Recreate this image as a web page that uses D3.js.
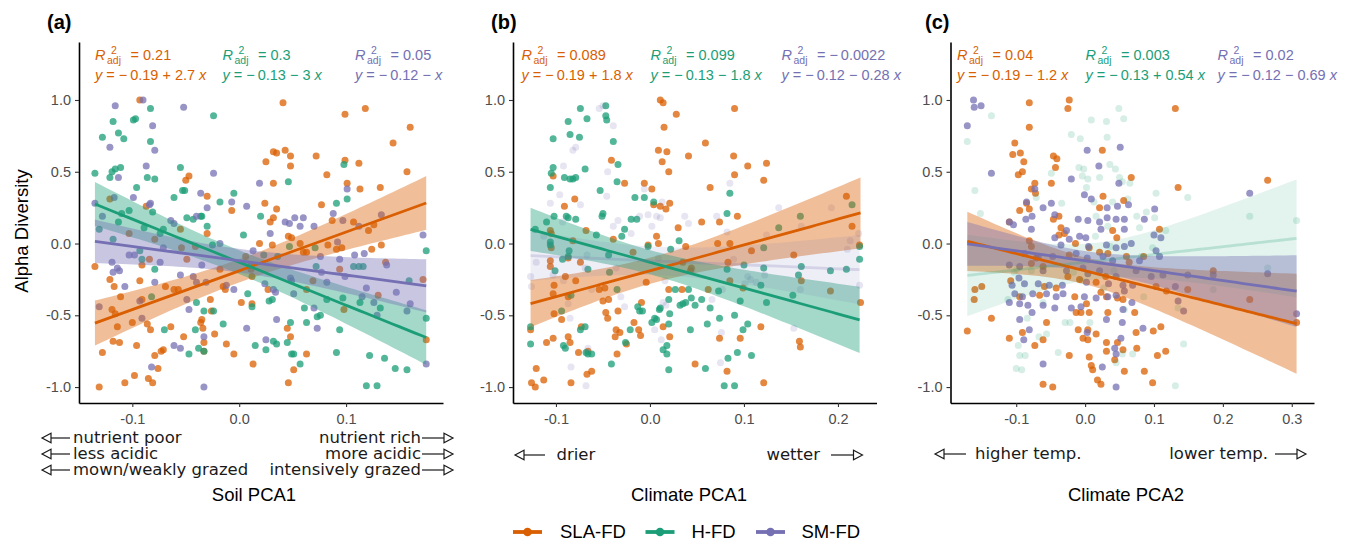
<!DOCTYPE html>
<html>
<head>
<meta charset="utf-8">
<script src="https://cdn.jsdelivr.net/npm/d3@7"></script>
<style>
  body { margin: 0; background: #fff; }
  svg { display: block; }
  text { font-family: "Liberation Sans", Arial, sans-serif; }
</style>
</head>
<body>
<svg id="chart" width="1355" height="541"></svg>
<script>
// ---- data: [predictor score, alpha diversity] per plot ----
const soilSLA = [[-0.131,-1.00],[-0.135,-0.16],[-0.128,-0.76],[-0.121,0.31],[-0.121,-0.25],[-0.117,-0.30],[-0.119,-0.46],[-0.116,-0.49],[-0.111,-0.37],[-0.114,-0.58],[-0.118,-0.68],[-0.112,-0.69],[-0.107,-0.97],[-0.103,0.07],[-0.100,-0.55],[-0.096,-0.71],[-0.098,-0.92],[-0.093,1.00],[-0.093,-0.26],[-0.091,-0.15],[-0.091,-0.39],[-0.087,0.26],[-0.086,-0.56],[-0.083,-0.60],[-0.085,-0.94],[-0.081,-0.97],[-0.084,-0.11],[-0.079,0.03],[-0.079,-0.78],[-0.076,-0.87],[-0.073,-0.75],[-0.071,-0.74],[-0.069,-0.30],[-0.064,-0.58],[-0.061,-0.32],[-0.055,0.10],[-0.054,-0.03],[-0.050,0.44],[-0.047,0.47],[-0.049,-0.11],[-0.052,-0.65],[-0.057,-0.32],[-0.041,-0.02],[-0.036,-0.55],[-0.035,-0.53],[-0.034,-0.59],[-0.033,-0.69],[-0.033,-0.75],[-0.030,0.33],[-0.030,0.07],[-0.027,-0.39],[-0.026,-0.47],[-0.023,-0.63],[-0.018,-0.18],[-0.015,-0.30],[-0.013,-0.32],[-0.012,-0.70],[-0.007,0.23],[-0.005,-0.77],[0.002,-0.41],[0.006,-0.09],[0.011,-0.18],[0.012,-0.23],[0.013,-0.84],[0.012,-0.42],[0.019,0.00],[0.025,0.57],[0.024,0.28],[0.027,-0.32],[0.029,0.15],[0.031,-0.01],[0.032,0.64],[0.035,0.63],[0.032,0.42],[0.032,0.18],[0.035,0.24],[0.041,0.98],[0.043,0.65],[0.048,0.61],[0.048,0.54],[0.046,0.05],[0.049,0.04],[0.045,-0.59],[0.048,-0.65],[0.051,-0.88],[0.046,-0.97],[0.057,0.00],[0.060,-0.06],[0.063,-0.06],[0.063,-0.77],[0.063,-0.32],[0.069,-0.26],[0.072,0.61],[0.077,0.27],[0.082,0.48],[0.083,-0.01],[0.087,0.16],[0.091,-0.04],[0.094,-0.18],[0.096,-0.03],[0.098,-0.46],[0.099,0.58],[0.101,0.42],[0.099,0.90],[0.107,0.15],[0.112,0.56],[0.113,0.38],[0.118,0.94],[0.121,0.09],[0.124,-0.04],[0.126,0.13],[0.130,-0.36],[0.132,0.39],[0.133,-0.01],[0.137,-0.13],[0.144,0.70],[0.157,0.50],[0.160,0.81],[0.172,-0.25],[0.175,-0.67]];

const soilH = [[-0.135,0.49],[-0.131,0.10],[-0.128,0.74],[-0.121,0.46],[-0.119,0.50],[-0.116,0.52],[-0.111,0.53],[-0.118,0.85],[-0.113,0.77],[-0.108,0.73],[-0.118,0.03],[-0.113,0.15],[-0.110,0.21],[-0.103,0.23],[-0.099,0.86],[-0.097,0.87],[-0.096,0.39],[-0.093,-0.05],[-0.091,-0.11],[-0.089,0.11],[-0.086,0.46],[-0.079,0.45],[-0.083,0.71],[-0.083,0.94],[-0.081,0.22],[-0.082,-0.37],[-0.079,-0.18],[-0.074,0.07],[-0.071,0.10],[-0.070,-0.60],[-0.061,0.32],[-0.055,0.53],[-0.053,0.37],[-0.051,0.37],[-0.049,0.18],[-0.047,-0.77],[-0.043,0.17],[-0.041,-0.60],[-0.040,-0.41],[-0.038,-0.73],[-0.036,0.19],[-0.035,0.19],[-0.033,-0.75],[-0.033,-0.47],[-0.030,0.12],[-0.024,0.89],[-0.025,-0.01],[-0.024,-0.47],[-0.018,0.29],[-0.015,-0.56],[-0.005,0.35],[0.004,0.06],[0.008,-0.35],[0.011,-0.15],[0.012,-0.44],[0.015,-0.71],[0.020,0.19],[0.023,-0.08],[0.025,-0.74],[0.028,-0.40],[0.031,-0.39],[0.032,-0.68],[0.035,-0.70],[0.036,-0.09],[0.045,-0.69],[0.046,0.43],[0.047,-0.02],[0.048,-0.55],[0.049,-0.77],[0.051,-0.77],[0.057,-0.84],[0.061,-0.45],[0.063,-0.55],[0.072,-0.16],[0.071,-0.03],[0.073,-0.51],[0.076,-0.50],[0.082,-0.39],[0.091,0.28],[0.091,-0.76],[0.094,-0.60],[0.097,-0.38],[0.098,0.55],[0.101,0.31],[0.107,-0.16],[0.112,-0.16],[0.116,-0.16],[0.113,-0.41],[0.119,-0.99],[0.129,-0.99],[0.122,-0.78],[0.132,-0.45],[0.136,-0.80],[0.146,-0.87],[0.157,-0.88],[0.159,-0.26],[0.175,-0.05],[0.175,-0.52]];

const soilSM = [[-0.135,0.28],[-0.131,-0.44],[-0.128,0.19],[-0.121,0.67],[-0.119,-0.13],[-0.116,0.96],[-0.118,-0.20],[-0.114,-0.17],[-0.112,-0.19],[-0.117,0.32],[-0.113,0.46],[-0.107,-0.30],[-0.103,-0.08],[-0.099,0.32],[-0.098,-0.08],[-0.093,-0.40],[-0.091,-0.52],[-0.090,1.00],[-0.087,0.54],[-0.084,0.27],[-0.083,0.28],[-0.081,0.82],[-0.079,0.65],[-0.079,-0.27],[-0.082,-0.86],[-0.074,-0.13],[-0.071,-0.03],[-0.064,0.16],[-0.061,0.14],[-0.061,-0.71],[-0.055,-0.22],[-0.055,-0.73],[-0.052,0.95],[-0.049,-0.39],[-0.047,-0.46],[-0.043,-0.23],[-0.040,-0.27],[-0.040,0.19],[-0.036,0.35],[-0.035,-0.15],[-0.033,-0.65],[-0.033,-1.00],[-0.031,-0.27],[-0.030,0.25],[-0.024,0.49],[-0.018,0.00],[-0.012,-0.29],[-0.007,0.29],[-0.005,-0.32],[0.007,0.26],[0.007,-0.59],[0.013,-0.05],[0.019,0.42],[0.024,-0.28],[0.025,-0.67],[0.029,0.07],[0.032,-0.32],[0.034,-0.34],[0.035,-0.53],[0.043,0.15],[0.047,0.14],[0.052,0.18],[0.048,-0.24],[0.049,-0.26],[0.051,-0.35],[0.057,0.12],[0.060,0.18],[0.070,0.12],[0.070,-0.45],[0.073,-0.59],[0.076,-0.09],[0.077,-0.20],[0.082,-0.27],[0.088,0.21],[0.092,0.01],[0.094,-0.11],[0.097,0.16],[0.099,-0.23],[0.101,0.38],[0.108,-0.08],[0.112,0.12],[0.115,-0.37],[0.117,-0.07],[0.119,-0.31],[0.126,-0.41],[0.129,-0.50],[0.133,0.20],[0.138,-0.15],[0.147,-0.34],[0.157,-0.47],[0.160,-0.42],[0.172,0.06],[0.175,-0.84]];

const moistSLA = [[-0.127,-0.60],[-0.126,-0.97],[-0.122,-1.00],[-0.121,-0.87],[-0.113,-0.95],[-0.110,-0.69],[-0.106,0.09],[-0.105,0.07],[-0.106,-0.12],[-0.106,-0.16],[-0.105,-0.03],[-0.103,0.47],[-0.103,-0.66],[-0.102,-0.49],[-0.102,-0.29],[-0.103,-0.35],[-0.094,-0.53],[-0.091,0.26],[-0.090,-0.23],[-0.087,-0.10],[-0.087,-0.37],[-0.087,-0.65],[-0.085,-0.69],[-0.084,-0.97],[-0.082,0.02],[-0.080,0.31],[-0.079,-0.26],[-0.076,-0.76],[-0.074,-0.13],[-0.073,-0.58],[-0.068,0.09],[-0.067,-0.91],[-0.066,-0.75],[-0.062,-0.89],[-0.054,-0.32],[-0.050,-0.40],[-0.048,-0.31],[-0.047,-0.48],[-0.045,-0.52],[-0.044,-0.39],[-0.041,0.58],[-0.039,0.03],[-0.037,-0.65],[-0.036,-0.60],[-0.035,-0.77],[-0.032,-0.62],[-0.034,-0.47],[-0.027,0.42],[-0.025,-0.70],[-0.018,-0.06],[-0.017,-0.55],[-0.012,-0.60],[-0.010,-0.64],[-0.009,-0.41],[-0.006,0.42],[-0.004,-0.27],[-0.002,-0.01],[0.002,0.38],[0.004,0.27],[0.007,0.05],[0.009,0.00],[0.009,0.65],[0.011,1.00],[0.014,0.98],[0.015,0.81],[0.013,0.57],[0.018,0.64],[0.020,0.50],[0.011,0.26],[0.017,0.24],[0.021,0.28],[0.014,-0.58],[0.020,-0.32],[0.021,-0.65],[0.028,0.90],[0.030,0.11],[0.034,-0.32],[0.035,-0.13],[0.038,-0.02],[0.041,0.61],[0.043,-0.19],[0.044,-0.17],[0.048,-0.84],[0.055,0.15],[0.059,0.70],[0.062,-0.32],[0.064,0.39],[0.072,0.00],[0.074,0.15],[0.074,-0.66],[0.082,-0.89],[0.083,-0.13],[0.085,0.00],[0.085,-0.26],[0.089,0.61],[0.090,0.94],[0.090,0.48],[0.093,0.19],[0.096,-0.66],[0.099,-0.31],[0.104,0.54],[0.108,-0.05],[0.118,-0.58],[0.121,0.44],[0.121,-0.97],[0.124,0.56],[0.153,-0.08],[0.159,-0.68],[0.160,-0.72],[0.161,-0.26],[0.192,-0.33],[0.209,0.33],[0.215,0.12],[0.223,-0.01],[0.224,-0.41]];

const moistH = [[-0.127,-0.58],[-0.127,-0.70],[-0.122,0.10],[-0.110,0.15],[-0.106,0.01],[-0.106,-0.01],[-0.106,0.39],[-0.105,0.49],[-0.103,0.53],[-0.103,0.73],[-0.102,0.19],[-0.101,-0.19],[-0.094,-0.47],[-0.093,-0.11],[-0.092,-0.71],[-0.090,-0.73],[-0.091,0.46],[-0.085,0.45],[-0.082,0.45],[-0.079,0.46],[-0.089,0.19],[-0.087,0.18],[-0.087,0.85],[-0.086,-0.05],[-0.087,-0.09],[-0.085,0.76],[-0.084,-0.36],[-0.079,0.17],[-0.075,0.74],[-0.074,-0.60],[-0.069,-0.58],[-0.074,0.94],[-0.069,0.52],[-0.068,-0.76],[-0.066,-0.77],[-0.062,-0.77],[-0.067,0.87],[-0.066,-0.18],[-0.057,0.06],[-0.053,0.37],[-0.051,0.19],[-0.050,0.21],[-0.047,0.96],[-0.047,0.89],[-0.046,0.86],[-0.044,-0.08],[-0.043,-0.20],[-0.041,-0.84],[-0.039,0.71],[-0.035,-0.32],[-0.034,0.55],[-0.035,0.43],[-0.030,0.05],[-0.027,0.10],[-0.026,-0.69],[-0.021,-0.60],[-0.020,0.17],[-0.016,0.32],[-0.014,0.17],[-0.013,-0.44],[-0.011,-0.47],[-0.008,-0.47],[-0.006,0.32],[-0.002,-0.02],[0.002,-0.55],[0.004,0.29],[0.005,-0.52],[0.007,-0.53],[0.010,-0.46],[0.011,-0.45],[0.014,-0.74],[0.018,-0.71],[0.018,-0.77],[0.020,-0.88],[0.020,-0.56],[0.021,-0.49],[0.020,-0.39],[0.022,-0.04],[0.027,-0.32],[0.031,0.02],[0.032,-0.43],[0.035,-0.42],[0.038,-0.41],[0.041,-0.32],[0.043,-0.60],[0.044,-0.38],[0.048,-0.43],[0.055,-0.39],[0.059,-0.87],[0.061,-0.56],[0.064,-0.45],[0.073,-0.33],[0.074,-0.52],[0.079,-0.99],[0.082,-0.18],[0.085,0.35],[0.082,0.21],[0.083,-0.80],[0.090,-0.50],[0.090,-0.99],[0.093,-0.76],[0.096,-0.40],[0.099,-0.60],[0.104,-0.56],[0.100,-0.15],[0.108,-0.78],[0.118,-0.29],[0.121,-0.17],[0.121,-0.03],[0.124,-0.41],[0.137,0.11],[0.152,-0.36],[0.160,0.19],[0.158,-0.22],[0.161,-0.16],[0.192,-0.19],[0.209,-0.18],[0.215,0.27],[0.223,-0.11],[0.223,-0.02]];

const moistSM = [[-0.127,-0.23],[-0.126,-0.30],[-0.121,-0.13],[-0.113,0.05],[-0.106,0.28],[-0.103,-0.22],[-0.096,0.34],[-0.092,0.54],[-0.093,0.15],[-0.092,-0.26],[-0.087,-0.42],[-0.085,-0.52],[-0.084,-0.86],[-0.082,0.65],[-0.079,0.67],[-0.074,0.27],[-0.069,-0.17],[-0.068,-0.99],[-0.067,-0.08],[-0.066,-0.73],[-0.062,-0.32],[-0.054,0.94],[-0.050,0.96],[-0.046,0.33],[-0.045,0.50],[-0.039,0.82],[-0.039,0.12],[-0.036,-0.17],[-0.034,0.16],[-0.031,-0.37],[-0.027,-0.44],[-0.020,0.07],[-0.011,0.19],[-0.006,0.38],[-0.002,0.20],[0.002,0.12],[0.005,-0.60],[0.007,0.19],[0.009,-0.10],[0.011,0.18],[0.012,-0.67],[0.013,0.29],[0.014,-0.41],[0.016,-0.26],[0.017,-0.43],[0.037,0.19],[0.041,0.14],[0.045,-0.18],[0.066,-0.39],[0.071,0.19],[0.075,-0.83],[0.076,-0.62],[0.077,-0.32],[0.082,0.08],[0.085,0.42],[0.089,-0.11],[0.101,-0.28],[0.104,-0.23],[0.107,-0.25],[0.113,-0.27],[0.122,-0.22],[0.124,0.06],[0.137,0.25],[0.153,-0.59],[0.160,-0.32],[0.161,0.12],[0.193,0.25],[0.210,-0.04],[0.213,0.02],[0.222,0.07],[0.223,-0.29]];

const tempSLA = [[-0.171,-0.61],[-0.161,-0.39],[-0.160,-0.32],[-0.150,-0.30],[-0.136,-0.52],[-0.081,0.98],[-0.081,0.81],[-0.025,0.94],[-0.023,1.00],[-0.110,0.15],[-0.108,-0.26],
  [-0.102,0.70],[-0.105,0.62],[-0.094,0.63],[-0.089,0.57],[-0.091,0.50],[-0.097,0.48],[-0.046,0.61],[-0.041,0.59],[-0.043,0.53],[-0.073,0.42],[-0.049,0.42],[-0.078,0.38],[-0.072,0.35],[0.025,0.65],[0.067,0.46],[0.026,0.33],[0.021,0.25],[0.056,0.30],[-0.095,0.23],[-0.081,0.24],[-0.085,0.28],[-0.046,0.17],[-0.038,0.19],[-0.035,0.11],[-0.030,0.07],[0.108,0.10],[-0.081,0.02],[-0.078,-0.02],[-0.038,0.06],[-0.014,0.00],[0.006,-0.03],[0.040,0.09],[0.046,0.04],[-0.023,-0.08],[0.021,-0.06],[0.033,-0.07],[0.060,-0.09],[0.085,-0.09],[-0.071,-0.10],[-0.078,-0.14],[-0.061,-0.16],[-0.025,-0.23],[-0.008,-0.25],[0.016,-0.27],[0.030,-0.23],[0.064,-0.13],[0.103,-0.30],[0.118,-0.33],[-0.059,-0.30],[-0.042,-0.31],[-0.095,-0.37],[-0.066,-0.36],[-0.015,-0.37],[0.002,-0.42],[0.023,-0.34],[0.031,-0.37],[0.047,-0.38],[0.055,-0.39],[-0.006,-0.48],[-0.013,-0.48],[0.006,-0.48],[0.033,-0.48],[0.072,-0.48],[-0.056,-0.55],[-0.110,-0.66],[-0.091,-0.62],[-0.073,-0.71],[-0.061,-0.67],[-0.010,-0.60],[0.004,-0.60],[0.016,-0.63],[-0.003,-0.66],[0.004,-0.67],[0.031,-0.69],[0.047,-0.69],[0.074,-0.62],[0.099,-0.61],[0.110,-0.58],[0.075,-0.73],[-0.023,-0.78],[0.006,-0.79],[0.031,-0.75],[0.043,-0.81],[0.055,-0.74],[0.117,-0.75],[0.105,-0.78],[0.009,-0.85],[0.011,-0.88],[0.057,-0.89],[0.086,-0.89],[0.098,-0.97],[-0.061,-0.98],[-0.047,-1.00],[0.018,-0.95],[0.023,-0.98],
  [0.131,0.94],[0.135,0.39],[0.149,-0.32],[0.186,-0.19],[0.239,-0.39],[0.265,0.44],[0.307,-0.55]];

const tempH = [[-0.171,0.71],[-0.160,0.37],[-0.152,0.21],[-0.136,0.89],[-0.112,-0.39],[-0.103,-0.20],[-0.099,-0.18],[-0.097,-0.71],[-0.095,-0.78],[-0.100,-0.87],[-0.092,-0.88],[-0.087,-0.78],[-0.084,-0.52],[-0.078,-0.19],[-0.071,0.32],[-0.067,-0.65],[-0.061,-0.41],[-0.056,-0.63],[-0.049,0.49],[-0.039,-0.76],[-0.034,0.28],[-0.029,-0.55],[-0.022,-0.55],[-0.020,0.76],[-0.017,-0.20],[-0.009,0.53],[-0.007,0.73],[-0.005,-0.26],[-0.004,0.47],[-0.002,0.52],[0.002,0.39],[0.004,0.45],[0.007,-0.55],[0.009,0.86],[0.013,0.29],[0.015,0.05],[0.016,0.19],[0.021,0.46],[0.027,-0.31],[0.031,0.85],[0.032,0.74],[0.033,0.12],[0.036,0.55],[0.037,-0.02],[0.040,0.29],[0.042,-0.19],[0.044,0.52],[0.045,-0.83],[0.049,0.94],[0.050,0.46],[0.054,0.43],[0.054,-0.77],[0.056,0.87],[0.057,-0.46],[0.062,0.31],[0.065,0.42],[0.069,-0.77],[0.075,0.19],[0.079,0.11],[0.082,-0.09],[0.085,-0.37],[0.089,0.22],[0.098,-0.03],[0.101,0.18],[0.103,0.35],[0.117,0.09],[0.131,-0.99],[0.135,-0.45],[0.143,-0.70],[0.149,0.32],[0.186,-0.32],[0.239,0.19],[0.265,-0.17],[0.307,0.16]];

const tempSM = [[-0.171,0.82],[-0.162,1.00],[-0.161,0.95],[-0.151,0.96],[-0.136,0.49],
  [0.003,0.65],[0.051,0.67],[0.020,0.54],[-0.020,0.45],[0.049,0.42],[-0.073,0.38],[-0.001,0.34],[0.009,0.31],[-0.085,0.29],[-0.061,0.25],[-0.049,0.28],[0.032,0.25],[0.047,0.26],[0.063,0.27],[0.101,0.24],[-0.110,0.15],[-0.104,0.13],[-0.086,0.17],[-0.077,0.19],[-0.078,0.10],[-0.044,0.20],[-0.010,0.17],[0.004,0.16],[0.021,0.15],[0.032,0.18],[0.045,0.17],[0.057,0.17],[0.086,0.17],[-0.027,0.09],[-0.008,0.05],[0.001,0.04],[0.023,0.10],[0.057,0.10],[0.100,0.06],[0.110,0.04],[-0.044,0.04],[-0.035,-0.01],[-0.023,0.03],[0.005,-0.02],[0.031,-0.01],[0.045,-0.03],[0.057,-0.02],[0.067,0.00],[0.103,-0.05],[-0.088,-0.07],[-0.068,-0.09],[-0.047,-0.09],[-0.013,-0.07],[0.003,-0.10],[0.026,-0.09],[0.040,-0.12],[0.079,-0.12],[0.108,-0.09],[-0.110,-0.15],[-0.095,-0.16],[-0.061,-0.19],[-0.027,-0.19],[-0.003,-0.17],[0.004,-0.21],[0.021,-0.19],[0.045,-0.23],[0.074,-0.19],[0.096,-0.23],[0.113,-0.22],[-0.096,-0.24],[-0.088,-0.28],[-0.106,-0.29],[-0.068,-0.28],[-0.052,-0.29],[-0.033,-0.29],[0.002,-0.27],[0.034,-0.28],[0.055,-0.29],[0.069,-0.29],[-0.102,-0.35],[-0.091,-0.37],[-0.076,-0.35],[-0.056,-0.35],[-0.042,-0.37],[-0.032,-0.35],[-0.001,-0.37],[0.016,-0.38],[0.033,-0.37],[0.045,-0.36],[0.057,-0.33],[-0.110,-0.41],[-0.095,-0.42],[-0.083,-0.43],[-0.061,-0.43],[-0.044,-0.45],[-0.020,-0.45],[-0.006,-0.44],[0.055,-0.46],[0.068,-0.41],[-0.095,-0.53],[-0.077,-0.48],[0.031,-0.53],[0.054,-0.55],[0.084,-0.59],[-0.081,-0.60],[-0.089,-0.67],[0.003,-0.62],[0.052,-0.66],[-0.061,-0.84],[0.025,-0.86],[0.043,-0.73],[0.045,-0.77],[0.045,-1.00],
  [0.131,-0.30],[0.135,-0.40],[0.143,-0.47],[0.149,-0.22],[0.186,-0.22],[0.239,0.35],[0.265,-0.21],[0.307,-0.49]];

// ---- model summaries (adjusted R², intercept, slope) ----
const seriesNames = ["SLA-FD", "H-FD", "SM-FD"];
const panelTags = ["(a)", "(b)", "(c)"];
const axisTitles = ["Soil PCA1", "Climate PCA1", "Climate PCA2"];
const r2adj = [["0.21", "0.3", "0.05"], ["0.089", "0.099", "\u2212\u20090.0022"], ["0.04", "0.003", "0.02"]];
const intercepts = [[-0.19, -0.13, -0.12], [-0.19, -0.13, -0.12], [-0.19, -0.13, -0.12]];
const slopes = [[2.7, -3, -1], [1.8, -1.8, -0.28], [-1.2, 0.54, -0.69]];
const significant = [[true, true, true], [true, true, false], [true, false, true]];
const xTicks = [[-0.1, 0, 0.1], [-0.1, 0, 0.1, 0.2], [-0.1, 0, 0.1, 0.2, 0.3]];
const yTicks = [-1, -0.5, 0, 0.5, 1];
const leftNotes = [["nutrient poor", "less acidic", "mown/weakly grazed"], ["drier"], ["higher temp."]];
const rightNotes = [["nutrient rich", "more acidic", "intensively grazed"], ["wetter"], ["lower temp."]];

const panelData = [[soilSLA, soilH, soilSM], [moistSLA, moistH, moistSM], [tempSLA, tempH, tempSM]];
const colors = ["#D95F02", "#1B9E77", "#7570B3"];

// ---- layout ----
const layout = [
  { x0: 79,  x1: 443,  dom: [-0.1499, 0.1907], tagX: 47,  eqX: [95, 222.5, 355],
    note: { tipL: 42, endL: 70, textL: 73, textR: 421, startR: 422, tipR: 453, rowY: [438, 454, 470] }, titleX: 254 },
  { x0: 513, x1: 876.5, dom: [-0.1457, 0.2410], tagX: 491, eqX: [521.5, 650.5, 781.5],
    note: { tipL: 515, endL: 545, textL: 556.5, textR: 820, startR: 831, tipR: 862.5, rowY: [455] }, titleX: 689 },
  { x0: 950.5, x1: 1314, dom: [-0.1954, 0.3323], tagX: 925, eqX: [957, 1085.5, 1217.5],
    note: { tipL: 935, endL: 966, textL: 975, textR: 1268, startR: 1275, tipR: 1306, rowY: [454] }, titleX: 1126 }
];
const yTop = 42, yBottom = 403;
const y = d3.scaleLinear().domain([-1.111, 1.404]).range([yBottom, yTop]);

const svg = d3.select("#chart");
const minusFmt = d => (d === 0 ? "0.0" : d3.format(".1f")(d).replace("\u2212", "-"));

// 95% confidence band for a fitted line y = a + b x, from the residuals of the points
function confBand(pts, a, b) {
  const n = pts.length;
  const xm = d3.mean(pts, p => p[0]);
  const sxx = d3.sum(pts, p => (p[0] - xm) ** 2);
  const sse = d3.sum(pts, p => (p[1] - (a + b * p[0])) ** 2);
  const s = Math.sqrt(sse / (n - 2));
  const t = 1.98;
  const [lo, hi] = d3.extent(pts, p => p[0]);
  return d3.range(0, 61).map(i => {
    const xv = lo + (hi - lo) * i / 60;
    const se = s * Math.sqrt(1 / n + (xv - xm) ** 2 / sxx);
    const fit = a + b * xv;
    return { x: xv, y: fit, lo: fit - t * se, hi: fit + t * se };
  });
}

function eqText(a, b) {
  const num = v => String(Math.abs(v));
  const sa = (a < 0 ? "\u2212\u2009" : "") + num(a);
  const sb = (b < 0 ? " \u2212 " : " + ") + (Math.abs(b) === 1 ? "" : num(b) + " ");
  return " = " + sa + sb;
}

function arrowHead(g, tipX, yv, dir) {
  // open triangular head; dir = -1 points left, +1 points right
  const L = 9, H = 4.8;
  g.append("path")
    .attr("d", `M${tipX},${yv} L${tipX - dir * L},${yv - H} L${tipX - dir * L},${yv + H} Z`)
    .attr("fill", "#fff").attr("stroke", "#1a1a1a").attr("stroke-width", 1.2);
}

layout.forEach((L, pi) => {
  const x = d3.scaleLinear().domain(L.dom).range([L.x0, L.x1]);
  const g = svg.append("g");

  // points
  panelData[pi].forEach((pts, si) => {
    const sig = significant[pi][si];
    g.append("g").selectAll("circle").data(pts).join("circle")
      .attr("cx", d => x(d[0])).attr("cy", d => y(d[1])).attr("r", 3.5)
      .attr("fill", colors[si]).attr("fill-opacity", sig ? 0.75 : 0.18);
  });

  // fitted lines with confidence bands
  const fits = panelData[pi].map((pts, si) => confBand(pts, intercepts[pi][si], slopes[pi][si]));
  fits.forEach((band, si) => {
    const sig = significant[pi][si];
    g.append("path").datum(band)
      .attr("d", d3.area().x(d => x(d.x)).y0(d => y(d.lo)).y1(d => y(d.hi)))
      .attr("fill", colors[si]).attr("fill-opacity", sig ? 0.4 : 0.12);
  });
  fits.forEach((band, si) => {
    const sig = significant[pi][si];
    g.append("path").datum(band)
      .attr("d", d3.line().x(d => x(d.x)).y(d => y(d.y)))
      .attr("fill", "none").attr("stroke", colors[si]).attr("stroke-width", 2.8)
      .attr("stroke-opacity", sig ? 1 : 0.22);
  });

  // axes
  const ax = g.append("g").attr("transform", `translate(0,${yBottom})`)
    .call(d3.axisBottom(x).tickValues(xTicks[pi]).tickFormat(minusFmt).tickSize(4).tickSizeOuter(0).tickPadding(6.5));
  const ay = g.append("g").attr("transform", `translate(${L.x0},0)`)
    .call(d3.axisLeft(y).tickValues(yTicks).tickFormat(minusFmt).tickSize(4).tickSizeOuter(0).tickPadding(4));
  [ax, ay].forEach(a => {
    a.attr("font-family", null).attr("font-size", null);
    a.select(".domain").attr("stroke", "#000").attr("stroke-width", 1.6);
    a.selectAll(".tick line").attr("stroke", "#333").attr("stroke-width", 1.1);
    a.selectAll(".tick text").attr("fill", "#4d4d4d").style("font-size", "14.5px");
  });

  // panel tag
  svg.append("text").attr("x", L.tagX).attr("y", 29).text(panelTags[pi])
    .style("font-size", "20px").style("font-weight", "bold").attr("fill", "#000");

  // regression annotations
  seriesNames.forEach((nm, si) => {
    const ex = L.eqX[si];
    const c = colors[si];
    const t1 = svg.append("g").attr("fill", c).style("font-size", "14.5px");
    t1.append("text").attr("x", ex).attr("y", 60).style("font-style", "italic").text("R");
    t1.append("text").attr("x", ex + 16).attr("y", 53.5).style("font-size", "10.5px").text("2");
    t1.append("text").attr("x", ex + 12).attr("y", 63.5).style("font-size", "10.5px").text("adj");
    t1.append("text").attr("x", ex + 35.5).attr("y", 60).text("= " + r2adj[pi][si]);
    const t2 = svg.append("text").attr("x", ex).attr("y", 80).attr("fill", c).style("font-size", "14.5px");
    t2.append("tspan").style("font-style", "italic").text("y");
    t2.append("tspan").text(eqText(intercepts[pi][si], slopes[pi][si]));
    t2.append("tspan").style("font-style", "italic").text("x");
  });

  // direction notes below the axis
  const N = L.note;
  const ng = svg.append("g");
  N.rowY.forEach((ry, ri) => {
    ng.append("line").attr("x1", N.tipL + 9).attr("x2", N.endL).attr("y1", ry).attr("y2", ry)
      .attr("stroke", "#1a1a1a").attr("stroke-width", 1.2);
    arrowHead(ng, N.tipL, ry, -1);
    ng.append("line").attr("x1", N.startR).attr("x2", N.tipR - 9).attr("y1", ry).attr("y2", ry)
      .attr("stroke", "#1a1a1a").attr("stroke-width", 1.2);
    arrowHead(ng, N.tipR, ry, 1);
    ng.append("text").attr("x", N.textL).attr("y", ry + 5.3).text(leftNotes[pi][ri])
      .style("font-family", "'DejaVu Sans', Verdana, sans-serif").style("font-size", "16.5px").attr("fill", "#1a1a1a");
    ng.append("text").attr("x", N.textR).attr("y", ry + 5.3).attr("text-anchor", "end").text(rightNotes[pi][ri])
      .style("font-family", "'DejaVu Sans', Verdana, sans-serif").style("font-size", "16.5px").attr("fill", "#1a1a1a");
  });

  // axis title
  svg.append("text").attr("x", L.titleX).attr("y", 500.5).attr("text-anchor", "middle")
    .text(axisTitles[pi]).style("font-size", "18.5px").attr("fill", "#000");
});

// y axis title
svg.append("text").attr("transform", "translate(28,231) rotate(-90)").attr("text-anchor", "middle")
  .text("Alpha Diversity").style("font-size", "18.5px").attr("fill", "#000");

// legend
const legendX = [513, 645.5, 756];
const legendTextX = [560, 691.5, 801.5];
seriesNames.forEach((nm, si) => {
  const lg = svg.append("g");
  lg.append("line").attr("x1", legendX[si]).attr("x2", legendX[si] + 29).attr("y1", 532).attr("y2", 532)
    .attr("stroke", colors[si]).attr("stroke-width", 3.8);
  lg.append("circle").attr("cx", legendX[si] + 14.5).attr("cy", 532).attr("r", 4.3).attr("fill", colors[si]);
  lg.append("text").attr("x", legendTextX[si]).attr("y", 537.5).text(nm)
    .style("font-size", "18.5px").attr("fill", "#000");
});
</script>
</body>
</html>
